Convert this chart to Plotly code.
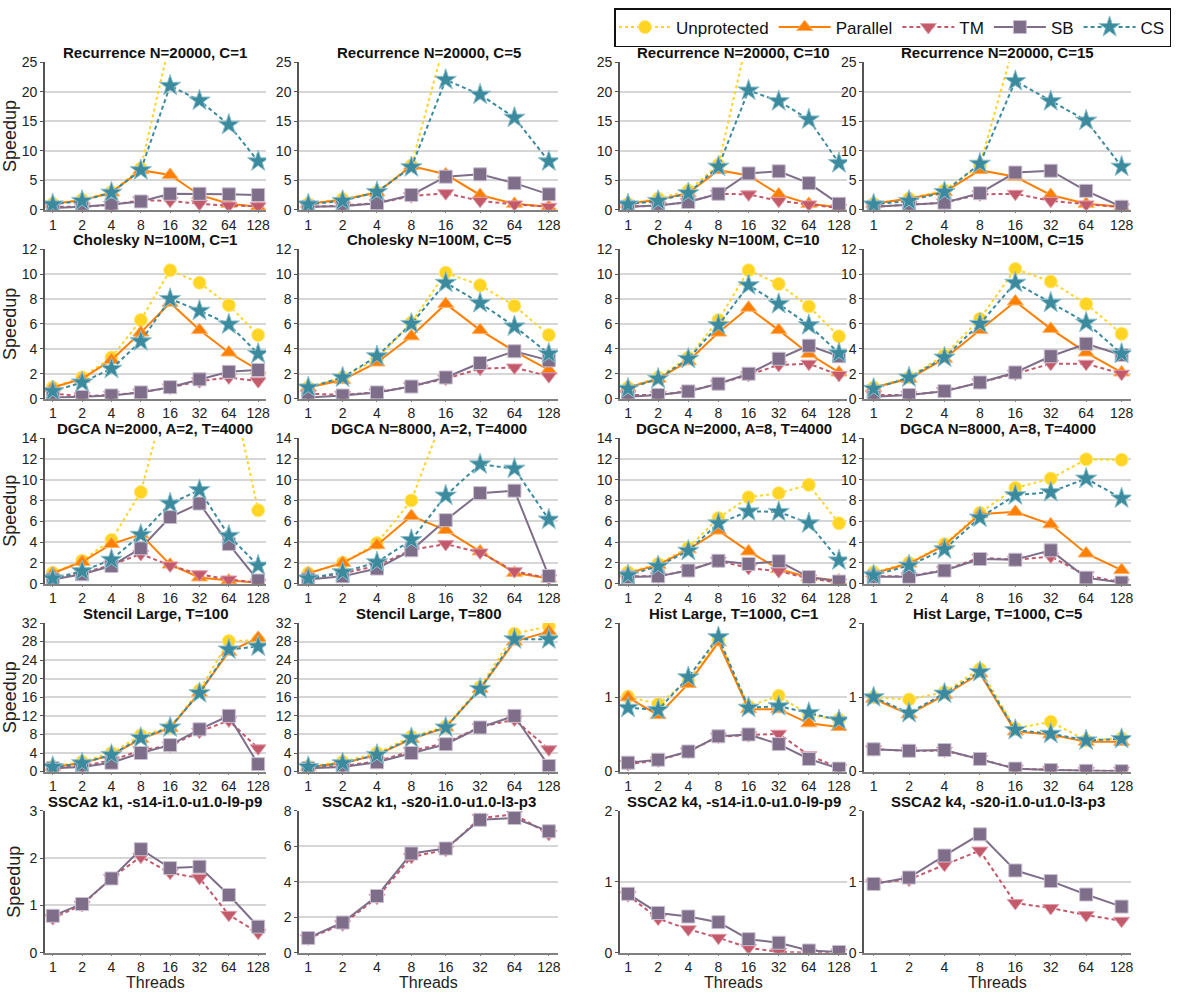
import plotly.graph_objects as go

# ---------------- data ----------------
thread_labels = ["1", "2", "4", "8", "16", "32", "64", "128"]
series_names = ["Unprotected", "Parallel", "TM", "SB", "CS"]

panel_titles = [
    "Recurrence N=20000, C=1", "Recurrence N=20000, C=5", "Recurrence N=20000, C=10", "Recurrence N=20000, C=15",
    "Cholesky N=100M, C=1", "Cholesky N=100M, C=5", "Cholesky N=100M, C=10", "Cholesky N=100M, C=15",
    "DGCA N=2000, A=2, T=4000", "DGCA N=8000, A=2, T=4000", "DGCA N=2000, A=8, T=4000", "DGCA N=8000, A=8, T=4000",
    "Stencil Large, T=100", "Stencil Large, T=800", "Hist Large, T=1000, C=1", "Hist Large, T=1000, C=5",
    "SSCA2 k1, -s14-i1.0-u1.0-l9-p9", "SSCA2 k1, -s20-i1.0-u1.0-l3-p3",
    "SSCA2 k4, -s14-i1.0-u1.0-l9-p9", "SSCA2 k4, -s20-i1.0-u1.0-l3-p3",
]

rec_c1 = {
    "Unprotected": [1.0, 1.7, 3.0, 7.0, 28.7, 35, 40, 32],
    "Parallel": [1.0, 1.6, 2.9, 6.7, 5.9, 2.5, 1.0, 0.5],
    "TM": [0.5, 0.5, 0.8, 1.6, 1.5, 1.0, 0.7, 0.6],
    "SB": [0.3, 0.5, 0.9, 1.4, 2.7, 2.7, 2.6, 2.5],
    "CS": [0.9, 1.5, 2.9, 6.7, 21.0, 18.5, 14.4, 8.2],
}
rec_c5 = {
    "Unprotected": [1.0, 1.8, 3.0, 7.5, 29.1, 36, 40, 32],
    "Parallel": [1.0, 1.7, 2.9, 7.4, 6.0, 2.5, 1.0, 0.5],
    "TM": [0.5, 0.7, 1.1, 2.3, 2.8, 1.5, 0.9, 0.5],
    "SB": [0.5, 0.6, 1.1, 2.5, 5.6, 6.0, 4.5, 2.6],
    "CS": [0.9, 1.5, 3.0, 7.2, 22.0, 19.5, 15.6, 8.2],
}
rec_c10 = {
    "Unprotected": [1.0, 1.9, 3.2, 7.6, 29.9, 36, 40, 32],
    "Parallel": [1.0, 1.7, 2.8, 6.7, 5.8, 2.6, 1.0, 0.4],
    "TM": [0.5, 0.7, 1.3, 2.7, 2.6, 1.5, 0.9, 0.3],
    "SB": [0.5, 0.7, 1.3, 2.7, 6.15, 6.5, 4.5, 1.0],
    "CS": [0.9, 1.5, 2.8, 7.3, 20.2, 18.4, 15.3, 7.9],
}
rec_c15 = {
    "Unprotected": [1.0, 1.9, 3.3, 7.5, 28.8, 36, 40, 32],
    "Parallel": [1.0, 1.9, 3.0, 6.7, 5.6, 2.5, 1.0, 0.5],
    "TM": [0.5, 0.8, 1.2, 2.6, 2.7, 1.5, 0.9, 0.4],
    "SB": [0.5, 0.8, 1.2, 2.8, 6.3, 6.6, 3.2, 0.5],
    "CS": [0.9, 1.5, 3.0, 7.8, 21.8, 18.4, 15.1, 7.3],
}
chol_c1 = {
    "Unprotected": [0.9, 1.7, 3.3, 6.3, 10.3, 9.3, 7.5, 5.1],
    "Parallel": [0.9, 1.6, 3.1, 5.3, 7.7, 5.5, 3.7, 2.3],
    "TM": [0.4, 0.2, 0.3, 0.5, 0.9, 1.4, 1.7, 1.4],
    "SB": [0.1, 0.15, 0.26, 0.5, 0.92, 1.55, 2.15, 2.3],
    "CS": [0.6, 1.3, 2.4, 4.6, 8.0, 7.06, 5.96, 3.6],
}
chol_c5 = {
    "Unprotected": [0.9, 1.7, 3.2, 6.1, 10.1, 9.1, 7.45, 5.1],
    "Parallel": [0.9, 1.5, 2.9, 5.0, 7.6, 5.5, 3.8, 2.3],
    "TM": [0.4, 0.3, 0.5, 1.0, 1.6, 2.4, 2.5, 1.8],
    "SB": [0.1, 0.25, 0.5, 0.97, 1.7, 2.86, 3.8, 3.07],
    "CS": [0.9, 1.7, 3.4, 6.0, 9.3, 7.67, 5.8, 3.6],
}
chol_c10 = {
    "Unprotected": [0.9, 1.7, 3.3, 6.3, 10.3, 9.2, 7.4, 5.0],
    "Parallel": [0.9, 1.6, 3.0, 5.3, 7.3, 5.5, 3.6, 2.1],
    "TM": [0.3, 0.3, 0.6, 1.2, 1.9, 2.7, 2.8, 1.9],
    "SB": [0.15, 0.3, 0.58, 1.2, 2.0, 3.2, 4.25, 3.4],
    "CS": [0.8, 1.6, 3.2, 5.9, 9.1, 7.6, 5.9, 3.65],
}
chol_c15 = {
    "Unprotected": [0.9, 1.7, 3.5, 6.4, 10.4, 9.4, 7.6, 5.2],
    "Parallel": [0.9, 1.6, 3.2, 5.5, 7.8, 5.6, 3.7, 2.1],
    "TM": [0.3, 0.3, 0.6, 1.3, 2.0, 2.8, 2.8, 2.0],
    "SB": [0.15, 0.3, 0.6, 1.3, 2.1, 3.4, 4.4, 3.5],
    "CS": [0.8, 1.7, 3.3, 6.0, 9.3, 7.7, 6.1, 3.6],
}
dgca_n2000_a2 = {
    "Unprotected": [1.04, 2.2, 4.2, 8.8, 19.4, 22.0, 20.1, 7.05],
    "Parallel": [1.0, 2.1, 3.8, 4.74, 1.83, 0.6, 0.3, 0.1],
    "TM": [0.5, 1.0, 1.8, 2.85, 1.75, 0.9, 0.4, 0.1],
    "SB": [0.4, 0.9, 1.7, 3.4, 6.4, 7.7, 3.8, 0.3],
    "CS": [0.5, 1.2, 2.3, 4.7, 7.7, 9.0, 4.6, 1.74],
}
dgca_n8000_a2 = {
    "Unprotected": [1.0, 2.0, 3.9, 8.0, 16.7, 24.0, 28.0, 22.0],
    "Parallel": [1.0, 2.0, 3.7, 6.5, 5.15, 3.1, 1.04, 0.5],
    "TM": [0.5, 1.0, 1.7, 3.25, 3.8, 3.0, 1.2, 0.5],
    "SB": [0.4, 0.7, 1.45, 3.2, 6.1, 8.7, 8.94, 0.73],
    "CS": [0.5, 1.1, 2.05, 4.2, 8.47, 11.47, 11.06, 6.16],
}
dgca_n2000_a8 = {
    "Unprotected": [1.1, 1.9, 3.45, 6.3, 8.3, 8.7, 9.5, 5.8],
    "Parallel": [1.0, 1.8, 3.3, 5.1, 3.1, 1.4, 0.6, 0.3],
    "TM": [0.7, 0.7, 1.3, 2.2, 1.5, 1.2, 0.5, 0.1],
    "SB": [0.63, 0.7, 1.26, 2.2, 1.9, 2.15, 0.63, 0.2],
    "CS": [0.8, 1.67, 3.16, 5.8, 6.95, 6.9, 5.8, 2.24],
}
dgca_n8000_a8 = {
    "Unprotected": [1.1, 2.0, 3.8, 6.8, 9.2, 10.1, 11.95, 11.9],
    "Parallel": [1.0, 1.93, 3.7, 6.67, 6.9, 5.7, 2.9, 1.3],
    "TM": [0.7, 0.7, 1.3, 2.5, 2.3, 2.6, 0.8, 0.1],
    "SB": [0.66, 0.66, 1.26, 2.37, 2.3, 3.2, 0.57, 0.1],
    "CS": [0.8, 1.74, 3.3, 6.35, 8.5, 8.8, 10.1, 8.2],
}
stencil_t100 = {
    "Unprotected": [1.1, 2.1, 4.0, 7.8, 9.5, 17.5, 28.1, 28.3],
    "Parallel": [1.0, 1.8, 3.6, 7.0, 9.4, 17.0, 25.8, 28.8],
    "TM": [0.8, 1.2, 2.4, 4.6, 5.6, 8.6, 11.0, 5.0],
    "SB": [0.7, 1.0, 1.9, 4.0, 5.7, 9.1, 12.0, 1.6],
    "CS": [1.0, 1.8, 3.6, 7.26, 9.5, 16.9, 26.3, 26.95],
}
stencil_t800 = {
    "Unprotected": [1.1, 2.1, 4.0, 7.5, 9.7, 18.2, 29.7, 31.3],
    "Parallel": [1.0, 1.8, 3.6, 7.0, 9.5, 17.8, 28.0, 30.2],
    "TM": [0.8, 1.2, 2.2, 4.4, 6.2, 9.6, 11.2, 4.8],
    "SB": [0.7, 1.0, 2.0, 4.0, 5.9, 9.5, 12.0, 1.2],
    "CS": [1.0, 1.8, 3.6, 7.2, 9.5, 17.8, 28.5, 28.5],
}
hist_c1 = {
    "Unprotected": [1.01, 0.91, 1.22, 1.78, 0.88, 1.02, 0.76, 0.70],
    "Parallel": [1.0, 0.76, 1.18, 1.74, 0.84, 0.84, 0.65, 0.6],
    "TM": [0.1, 0.15, 0.27, 0.47, 0.49, 0.51, 0.22, 0.05],
    "SB": [0.12, 0.16, 0.27, 0.475, 0.5, 0.37, 0.17, 0.04],
    "CS": [0.86, 0.83, 1.27, 1.81, 0.86, 0.88, 0.79, 0.69],
}
hist_c5 = {
    "Unprotected": [1.0, 0.97, 1.07, 1.38, 0.58, 0.67, 0.42, 0.45],
    "Parallel": [0.98, 0.77, 1.03, 1.32, 0.54, 0.5, 0.4, 0.4],
    "TM": [0.3, 0.28, 0.28, 0.17, 0.04, 0.02, 0.01, 0.01],
    "SB": [0.3, 0.28, 0.29, 0.17, 0.04, 0.02, 0.01, 0.005],
    "CS": [1.0, 0.79, 1.05, 1.34, 0.56, 0.51, 0.42, 0.44],
}
ssca2_k1_s14 = {
    "TM": [0.73, 1.01, 1.58, 2.03, 1.69, 1.58, 0.8, 0.42],
    "SB": [0.78, 1.03, 1.57, 2.19, 1.79, 1.82, 1.22, 0.55],
}
ssca2_k1_s20 = {
    "TM": [0.8, 1.6, 3.1, 5.4, 5.8, 7.6, 7.8, 6.7],
    "SB": [0.83, 1.7, 3.2, 5.6, 5.88, 7.5, 7.6, 6.85],
}
ssca2_k4_s14 = {
    "TM": [0.81, 0.48, 0.33, 0.21, 0.07, 0.01, 0.0, 0.0],
    "SB": [0.83, 0.56, 0.51, 0.43, 0.19, 0.14, 0.03, 0.01],
}
ssca2_k4_s20 = {
    "TM": [0.98, 1.03, 1.24, 1.44, 0.7, 0.63, 0.53, 0.45],
    "SB": [0.97, 1.06, 1.37, 1.67, 1.16, 1.01, 0.82, 0.65],
}

y_max = [25, 25, 25, 25, 12, 12, 12, 12, 14, 14, 14, 14, 32, 32, 2, 2, 3, 8, 2, 2]
y_step = [5, 5, 5, 5, 2, 2, 2, 2, 2, 2, 2, 2, 4, 4, 1, 1, 1, 2, 1, 1]

panels = [rec_c1, rec_c5, rec_c10, rec_c15,
          chol_c1, chol_c5, chol_c10, chol_c15,
          dgca_n2000_a2, dgca_n8000_a2, dgca_n2000_a8, dgca_n8000_a8,
          stencil_t100, stencil_t800, hist_c1, hist_c5,
          ssca2_k1_s14, ssca2_k1_s20, ssca2_k4_s14, ssca2_k4_s20]

# ---------------- styles ----------------
style = {
    "Unprotected": dict(color="#FFD422", edge="#FFE97A", symbol="circle", dash="3px,3px", size=13),
    "Parallel": dict(color="#FF7F00", edge="#FFB266", symbol="triangle-up", dash="solid", size=14),
    "TM": dict(color="#C25A6C", edge="#E0A0AC", symbol="triangle-down", dash="4px,3px", size=14),
    "SB": dict(color="#7E6E89", edge="#C9BFD0", symbol="square", dash="solid", size=13),
    "CS": dict(color="#3C8A9E", edge="#8EC0CC", symbol="star", dash="4px,3px", size=16),
}

W, H = 1178, 1000
col_px = [(45, 267), (300, 560), (622, 850), (867, 1135)]
row_px = [(55, 205), (245, 397), (437, 585), (625, 776), (816, 960)]
FONT = "Liberation Sans, Arial, sans-serif"

fig = go.Figure()
layout = {}
annotations = []
shown = set()

for i, data in enumerate(panels):
    r, c = divmod(i, 4)
    n = i + 1
    xa = "x" if n == 1 else f"x{n}"
    ya = "y" if n == 1 else f"y{n}"
    for name in series_names:
        if name not in data:
            continue
        st = style[name]
        fig.add_trace(go.Scatter(
            x=thread_labels, y=data[name], xaxis=xa, yaxis=ya,
            mode="lines+markers", name=name, legendgroup=name,
            showlegend=name not in shown,
            line=dict(color=st["color"], width=2, dash=st["dash"]),
            marker=dict(symbol=st["symbol"], size=st["size"], color=st["color"],
                        line=dict(color=st["edge"], width=1)),
            cliponaxis=True,
        ))
        shown.add(name)

    x0, x1 = col_px[c]
    t0, b0 = row_px[r]
    xkey = "xaxis" if n == 1 else f"xaxis{n}"
    ykey = "yaxis" if n == 1 else f"yaxis{n}"
    layout[xkey] = dict(
        domain=[x0 / W, x1 / W], anchor=ya, type="category",
        range=[-0.27, 7.27], showgrid=False, zeroline=False,
        showline=True, linecolor="#808080", linewidth=2,
        ticks="outside", ticklen=1, tickcolor="#808080",
        tickfont=dict(family=FONT, size=14, color="#222"),
    )
    layout[ykey] = dict(
        domain=[1 - b0 / H, 1 - t0 / H], anchor=xa,
        range=[0, y_max[i]], dtick=y_step[i], tick0=0,
        showgrid=True, gridcolor="#D6D6D6", gridwidth=1.5, zeroline=False,
        showline=True, linecolor="#555555", linewidth=1.5,
        ticks="outside", ticklen=3, tickcolor="#555555",
        tickfont=dict(family=FONT, size=14, color="#222"),
        title=dict(text="Speedup" if c == 0 else "", font=dict(family=FONT, size=18, color="#222"), standoff=4),
    )
    annotations.append(dict(
        text=f"<b>{panel_titles[i]}</b>", x=(x0 + x1) / 2 / W, y=1 - t0 / H,
        xref="paper", yref="paper", xanchor="center", yanchor="bottom",
        showarrow=False, borderpad=0,
        font=dict(family=FONT, size=15, color="#111"), yshift=0,
    ))
    if r == 4:
        annotations.append(dict(
            text="Threads", x=(x0 + x1) / 2 / W, y=0.0,
            xref="paper", yref="paper", xanchor="center", yanchor="bottom",
            showarrow=False, borderpad=0,
            font=dict(family=FONT, size=16, color="#222"),
        ))

fig.update_layout(
    width=W, height=H, margin=dict(l=0, r=0, t=0, b=0),
    paper_bgcolor="white", plot_bgcolor="white",
    annotations=annotations,
    legend=dict(orientation="h", x=1175 / W, y=1.0, xanchor="right", yanchor="top",
                bordercolor="#111", borderwidth=1.5, bgcolor="white",
                font=dict(family=FONT, size=17, color="#111"),
                itemwidth=52, tracegroupgap=0),
    **layout,
)

fig.write_html("out.html", config={"displayModeBar": False},
               post_script="document.body.style.margin='0';document.body.style.overflow='hidden';")
